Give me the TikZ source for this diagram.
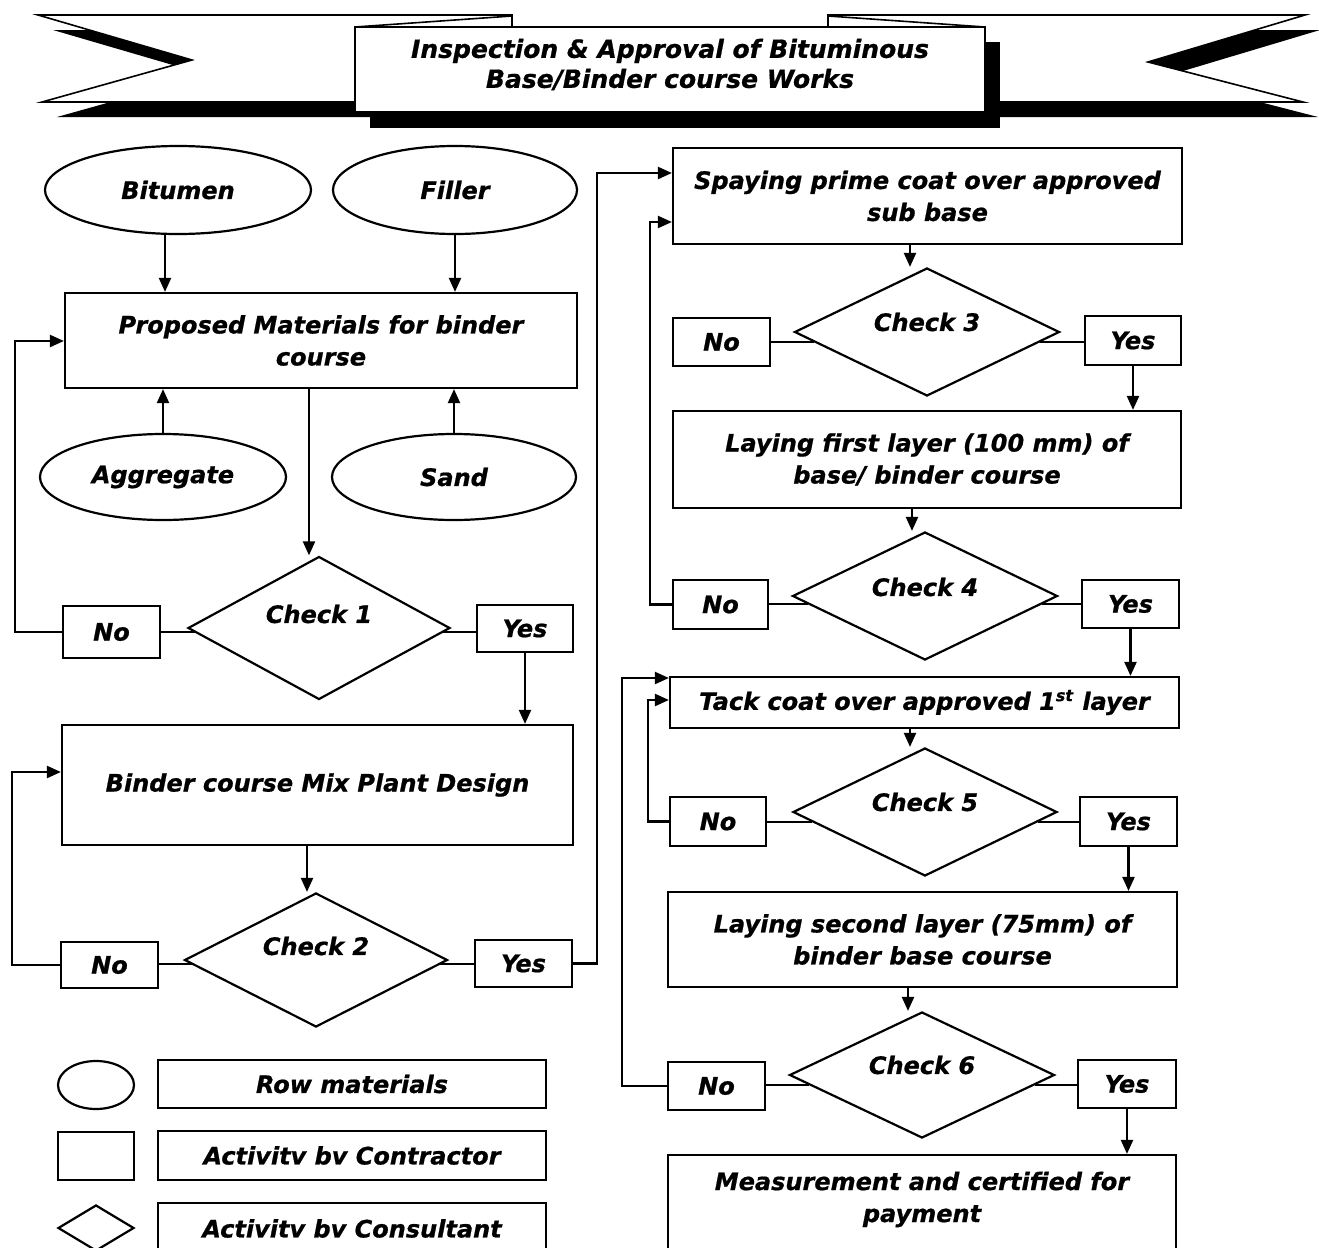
\documentclass[tikz,border=0pt]{standalone}
\usepackage{fontspec}
\setmainfont{DejaVu Sans}[BoldItalicFeatures={FakeBold=0.8}]
\usetikzlibrary{arrows.meta,shapes.geometric,fit}
\begin{document}
\begin{tikzpicture}[x=0.5pt,y=-0.5pt,
  ln/.style={line width=1.1pt},
  arr/.style={ln,-{Triangle[length=7pt,width=6pt]}},
  txt/.style={font=\bfseries\itshape\fontsize{12}{16}\selectfont, align=center},
  rbox/.style={draw,ln,inner sep=0pt},
  oval/.style={draw,ln,ellipse,inner sep=0pt,txt},
  dia/.style={draw,ln,diamond,inner sep=0pt},
  rib/.style={draw,line width=0.8pt,fill=white,line join=miter},
  lb/.style={label={[txt]center:#1}},
  dl/.style 2 args={label={[txt,yshift=#1]center:#2}},
]
\useasboundingbox (0,0) rectangle (1319,1248);
\clip (0,0) rectangle (1319,1248);

% ---- banner ----
\fill[black,shift={(15,15)}] (38,15) -- (512,15) -- (512,27) -- (355,27) -- (355,102) -- (42,102) -- (192,60) -- cycle;
\fill[black,shift={(15,15)}] (1305,15) -- (828,15) -- (828,27) -- (985,27) -- (985,102) -- (1303,102) -- (1148,62) -- cycle;
\path[rib] (38,15) -- (512,15) -- (512,27) -- (355,27) -- (355,102) -- (42,102) -- (192,60) -- cycle;
\path[rib] (1305,15) -- (828,15) -- (828,27) -- (985,27) -- (985,102) -- (1303,102) -- (1148,62) -- cycle;
\draw[line width=0.8pt] (355,27) -- (512,16);
\draw[line width=0.8pt] (985,27) -- (828,16);
\fill[black] (370,42) rectangle (1000,128);
\node[rbox, fill=white, line width=0.9pt, fit={(355,27) (985,112)},
  label={[txt, font=\bfseries\itshape\fontsize{12.5}{15}\selectfont, yshift=2.5pt]center:Inspection \& Approval of Bituminous\\Base/Binder course Works}] (title) {};

% ---- left column ----
\node[oval, minimum width=133pt, minimum height=44pt] (bit) at (178,190) {Bitumen};
\node[oval, minimum width=122pt, minimum height=44pt] (fil) at (455,190) {Filler};
\node[rbox, fit={(65,293) (577,388)}, lb={Proposed Materials for binder\\course}] (prop) {};
\node[oval, minimum width=123pt, minimum height=43pt] (agg) at (163,477) {Aggregate};
\node[oval, minimum width=122pt, minimum height=43pt] (snd) at (454,477) {Sand};

\node[dia, minimum width=131pt, minimum height=71.5pt, dl={7pt}{Check 1}] (c1) at (319,628) {};
\node[rbox, fit={(63,606) (160,658)}, lb=No] (n1) {};
\node[rbox, fit={(477,605) (573,652)}, lb=Yes] (y1) {};

\node[rbox, fit={(62,725) (573,845)}, lb={Binder course Mix Plant Design}] (bmp) {};

\node[dia, minimum width=131.5pt, minimum height=67pt, dl={7pt}{Check 2}] (c2) at (316,960) {};
\node[rbox, fit={(61,942) (158,988)}, lb=No] (n2) {};
\node[rbox, fit={(475,940) (572,987)}, lb=Yes] (y2) {};

% ---- right column ----
\node[rbox, fit={(673,148) (1182,244)}, lb={Spaying prime coat over approved\\sub base}] (spr) {};
\node[dia, minimum width=132.5pt, minimum height=64pt, dl={5pt}{Check 3}] (c3) at (927,332) {};
\node[rbox, fit={(673,318) (770,366)}, lb=No] (n3) {};
\node[rbox, fit={(1085,316) (1181,365)}, lb=Yes] (y3) {};

\node[rbox, fit={(673,411) (1181,508)}, lb={Laying first layer (100 mm) of\\base/ binder course}] (lay1) {};
\node[dia, minimum width=132.5pt, minimum height=64pt, dl={4.5pt}{Check 4}] (c4) at (925,596) {};
\node[rbox, fit={(673,580) (768,629)}, lb=No] (n4) {};
\node[rbox, fit={(1082,580) (1179,628)}, lb=Yes] (y4) {};

\node[rbox, fit={(670,677) (1179,728)}, lb={Tack coat over approved 1\textsuperscript{st} layer}] (tack) {};
\node[dia, minimum width=132pt, minimum height=64pt, dl={5pt}{Check 5}] (c5) at (925,812) {};
\node[rbox, fit={(670,797) (766,846)}, lb=No] (n5) {};
\node[rbox, fit={(1080,797) (1177,846)}, lb=Yes] (y5) {};

\node[rbox, fit={(668,892) (1177,987)}, lb={Laying second layer (75mm) of\\binder base course}] (lay2) {};
\node[dia, minimum width=132.5pt, minimum height=63pt, dl={5pt}{Check 6}] (c6) at (922,1075) {};
\node[rbox, fit={(668,1062) (765,1110)}, lb=No] (n6) {};
\node[rbox, fit={(1078,1060) (1176,1108)}, lb=Yes] (y6) {};

\node[rbox, fit={(668,1155) (1176,1254)}, dl={2.5pt}{Measurement and certified for\\payment}] (meas) {};

% ---- legend ----
\node[oval, minimum width=38pt, minimum height=24pt] (lgo) at (96,1085) {};
\node[rbox, fit={(158,1060) (546,1108)}, lb={Row materials}] (lgot) {};
\node[rbox, fit={(58,1132) (134,1180)}] (lgb) {};
\node[rbox, fit={(158,1131) (546,1180)}, lb={Activitv bv Contractor}] (lgbt) {};
\node[dia, minimum width=38pt, minimum height=23pt] (lgd) at (96,1228) {};
\node[rbox, fit={(158,1203) (546,1254)}, lb={Activitv bv Consultant}] (lgdt) {};

% ---- connectors ----
\draw[arr] (165,0 |- bit.south) -- (165,0 |- prop.north);
\draw[arr] (fil.south) -- (fil.south |- prop.north);
\draw[arr] (agg.north) -- (agg.north |- prop.south);
\draw[arr] (snd.north) -- (snd.north |- prop.south);
\draw[arr] (309,0 |- prop.south) -- (309,0 |- c1.north);
\draw[ln] (n1.east |- c1.182) -- (c1.182);
\draw[ln] (c1.358) -- (y1.west |- c1.358);
\draw[arr] (n1.west) -| (15,341) -- (prop.west |- 0,341);
\draw[arr] (y1.south) -- (y1.south |- bmp.north);
\draw[arr] (307,0 |- bmp.south) -- (307,0 |- c2.north);
\draw[ln] (n2.east |- c2.182) -- (c2.182);
\draw[ln] (c2.358) -- (y2.west |- c2.358);
\draw[arr] (n2.west) -| (12,772) -- (bmp.west |- 0,772);
\draw[arr] (y2.east) -| (597,173) -- (spr.west |- 0,173);

\draw[arr] (910,0 |- spr.south) -- (910,0 |- c3.north);
\draw[ln] (n3.east |- c3.185) -- (c3.185);
\draw[ln] (c3.355) -- (y3.west |- c3.355);
\draw[arr] (y3.south) -- (y3.south |- lay1.north);
\draw[arr] (912,0 |- lay1.south) -- (912,0 |- c4.north);
\draw[ln] (n4.east |- c4.184) -- (c4.184);
\draw[ln] (c4.356) -- (y4.west |- c4.356);
\draw[arr] (n4.west) -| (650,222) -- (spr.west |- 0,222);
\draw[arr] (y4.south) -- (y4.south |- tack.north);
\draw[arr] (910,0 |- tack.south) -- (910,0 |- c5.north);
\draw[ln] (n5.east |- c5.185) -- (c5.185);
\draw[ln] (c5.355) -- (y5.west |- c5.355);
\draw[arr] (n5.west) -| (648,700) -- (tack.west |- 0,700);
\draw[arr] (y5.south) -- (y5.south |- lay2.north);
\draw[arr] (908,0 |- lay2.south) -- (908,0 |- c6.north);
\draw[ln] (n6.east |- c6.185) -- (c6.185);
\draw[ln] (c6.355) -- (y6.west |- c6.355);
\draw[arr] (n6.west) -| (622,678) -- (tack.west |- 0,678);
\draw[arr] (y6.south) -- (y6.south |- meas.north);
\end{tikzpicture}
\end{document}
